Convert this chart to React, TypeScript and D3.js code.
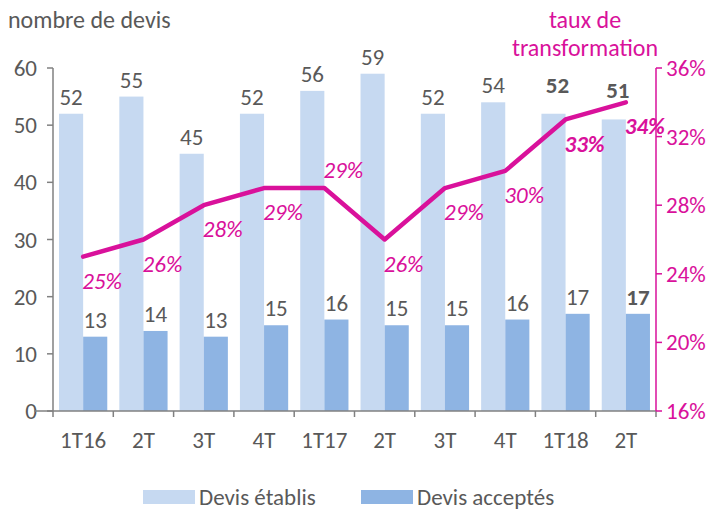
import { useRef, useEffect } from 'react'
import * as d3 from 'd3'

const quarters = ['1T16', '2T', '3T', '4T', '1T17', '2T', '3T', '4T', '1T18', '2T']
const devisEtablis = [52, 55, 45, 52, 56, 59, 52, 54, 52, 51]
const devisAcceptes = [13, 14, 13, 15, 16, 15, 15, 16, 17, 17]
const tauxTransfo = [25, 26, 28, 29, 29, 26, 29, 30, 33, 34]
const boldEtablis = [false, false, false, false, false, false, false, false, true, true]
const boldAcceptes = [false, false, false, false, false, false, false, false, false, true]
const boldTaux = [false, false, false, false, false, false, false, false, true, true]
const tauxAbove = [false, false, false, false, true, false, false, false, false, false]
const leftTicks = [0, 10, 20, 30, 40, 50, 60]
const rightTicks = [16, 20, 24, 28, 32, 36]

const LIGHT = '#C6D9F1'
const DARK = '#8EB4E3'
const MAGENTA = '#D9119B'
const GREY = '#595959'
const AXIS = '#808080'
const FONT = 'Carlito, Lato, sans-serif'

export default function App() {
  const svgRef = useRef<SVGSVGElement>(null)

  useEffect(() => {
    document.body.style.margin = '0'
    if (!svgRef.current) return
    const svg = d3.select(svgRef.current)
    svg.selectAll('*').remove()

    const left = 53
    const right = 656
    const top = 68
    const bottom = 411

    const idx = quarters.map((_, i) => String(i))
    const x = d3.scaleBand().domain(idx).range([left, right]).paddingInner(0).paddingOuter(0)
    const inner = d3.scaleBand().domain(['e', 'a']).range([0, x.bandwidth()]).paddingOuter(0.25).paddingInner(0)
    const y = d3.scaleLinear().domain([0, 60]).range([bottom, top])
    const y2 = d3.scaleLinear().domain([16, 36]).range([bottom, top])

    const g = svg.append('g').attr('font-family', FONT)

    // bars
    g.selectAll('.bar-e')
      .data(devisEtablis)
      .join('rect')
      .attr('x', (_, i) => (x(String(i)) || 0) + (inner('e') || 0))
      .attr('y', d => y(d))
      .attr('width', inner.bandwidth())
      .attr('height', d => bottom - y(d))
      .attr('fill', LIGHT)

    g.selectAll('.bar-a')
      .data(devisAcceptes)
      .join('rect')
      .attr('x', (_, i) => (x(String(i)) || 0) + (inner('a') || 0))
      .attr('y', d => y(d))
      .attr('width', inner.bandwidth())
      .attr('height', d => bottom - y(d))
      .attr('fill', DARK)

    // bar labels (the bold ones sit a little higher, clear of the line)
    g.selectAll('.lab-e')
      .data(devisEtablis)
      .join('text')
      .attr('x', (_, i) => (x(String(i)) || 0) + (inner('e') || 0) + inner.bandwidth() / 2 + (boldEtablis[i] ? 4 : 0))
      .attr('y', (d, i) => y(d) - (boldEtablis[i] ? 21 : 9))
      .attr('text-anchor', 'middle')
      .attr('font-size', 23)
      .attr('font-weight', (_, i) => (boldEtablis[i] ? 'bold' : 'normal'))
      .attr('fill', GREY)
      .text(d => d)

    g.selectAll('.lab-a')
      .data(devisAcceptes)
      .join('text')
      .attr('x', (_, i) => (x(String(i)) || 0) + (inner('a') || 0) + inner.bandwidth() / 2)
      .attr('y', d => y(d) - 9)
      .attr('text-anchor', 'middle')
      .attr('font-size', 23)
      .attr('font-weight', (_, i) => (boldAcceptes[i] ? 'bold' : 'normal'))
      .attr('fill', GREY)
      .text(d => d)

    // left axis
    g.append('line').attr('x1', left).attr('x2', left).attr('y1', top).attr('y2', bottom)
      .attr('stroke', AXIS).attr('stroke-width', 1.5)
    g.selectAll('.lt')
      .data(leftTicks)
      .join('line')
      .attr('x1', left - 6).attr('x2', left)
      .attr('y1', d => y(d)).attr('y2', d => y(d))
      .attr('stroke', AXIS).attr('stroke-width', 1.5)
    g.selectAll('.ltl')
      .data(leftTicks)
      .join('text')
      .attr('x', 37)
      .attr('y', d => y(d))
      .attr('dy', '0.35em')
      .attr('text-anchor', 'end')
      .attr('font-size', 23)
      .attr('fill', GREY)
      .text(d => d)

    // bottom axis
    g.append('line').attr('x1', 34).attr('x2', right).attr('y1', bottom).attr('y2', bottom)
      .attr('stroke', AXIS).attr('stroke-width', 1.5)
    g.selectAll('.bt')
      .data(d3.range(quarters.length + 1))
      .join('line')
      .attr('x1', i => left + i * x.step()).attr('x2', i => left + i * x.step())
      .attr('y1', bottom).attr('y2', bottom + 6)
      .attr('stroke', AXIS).attr('stroke-width', 1.5)
    g.selectAll('.btl')
      .data(quarters)
      .join('text')
      .attr('x', (_, i) => (x(String(i)) || 0) + x.bandwidth() / 2)
      .attr('y', 440)
      .attr('dy', '0.35em')
      .attr('text-anchor', 'middle')
      .attr('font-size', 23)
      .attr('fill', GREY)
      .text(d => d)

    // right axis
    g.append('line').attr('x1', right).attr('x2', right).attr('y1', top).attr('y2', bottom)
      .attr('stroke', MAGENTA).attr('stroke-width', 1.5)
    g.selectAll('.rt')
      .data(rightTicks)
      .join('line')
      .attr('x1', right).attr('x2', right + 6)
      .attr('y1', d => y2(d)).attr('y2', d => y2(d))
      .attr('stroke', MAGENTA).attr('stroke-width', 1.5)
    g.selectAll('.rtl')
      .data(rightTicks)
      .join('text')
      .attr('x', 666)
      .attr('y', d => y2(d))
      .attr('dy', '0.35em')
      .attr('font-size', 23)
      .attr('fill', MAGENTA)
      .text(d => `${d}%`)

    // line
    const line = d3.line<number>()
      .x((_, i) => (x(String(i)) || 0) + x.bandwidth() / 2)
      .y(d => y2(d))
    g.append('path')
      .datum(tauxTransfo)
      .attr('d', line)
      .attr('fill', 'none')
      .attr('stroke', MAGENTA)
      .attr('stroke-width', 4.5)
      .attr('stroke-linejoin', 'round')
      .attr('stroke-linecap', 'round')

    g.selectAll('.tl')
      .data(tauxTransfo)
      .join('text')
      .attr('x', (_, i) => (x(String(i)) || 0) + x.bandwidth() / 2 + 19)
      .attr('y', (d, i) => y2(d) + (tauxAbove[i] ? -18 : 24))
      .attr('dy', '0.35em')
      .attr('text-anchor', 'middle')
      .attr('font-size', 23)
      .attr('font-style', 'italic')
      .attr('font-weight', (_, i) => (boldTaux[i] ? 'bold' : 'normal'))
      .attr('fill', MAGENTA)
      .text(d => `${d}%`)

    // titles
    g.append('text').attr('x', 8).attr('y', 20).attr('dy', '0.35em')
      .attr('font-size', 24).attr('fill', GREY).text('nombre de devis')
    g.append('text').attr('x', 585).attr('y', 20).attr('dy', '0.35em').attr('text-anchor', 'middle')
      .attr('font-size', 24).attr('fill', MAGENTA).text('taux de')
    g.append('text').attr('x', 585).attr('y', 48).attr('dy', '0.35em').attr('text-anchor', 'middle')
      .attr('font-size', 24).attr('fill', MAGENTA).text('transformation')

    // legend
    const legend = [
      { label: 'Devis établis', color: LIGHT, x: 143 },
      { label: 'Devis acceptés', color: DARK, x: 361 },
    ]
    const lg = g.selectAll('.lg').data(legend).join('g')
      .attr('transform', d => `translate(${d.x},497)`)
    lg.append('rect').attr('x', 0).attr('y', -7).attr('width', 52).attr('height', 14).attr('fill', d => d.color)
    lg.append('text').attr('x', 56).attr('y', 0).attr('dy', '0.35em')
      .attr('font-size', 23).attr('fill', GREY).text(d => d.label)
  }, [])

  return <svg ref={svgRef} width={721} height={513} style={{ display: 'block' }} />
}
